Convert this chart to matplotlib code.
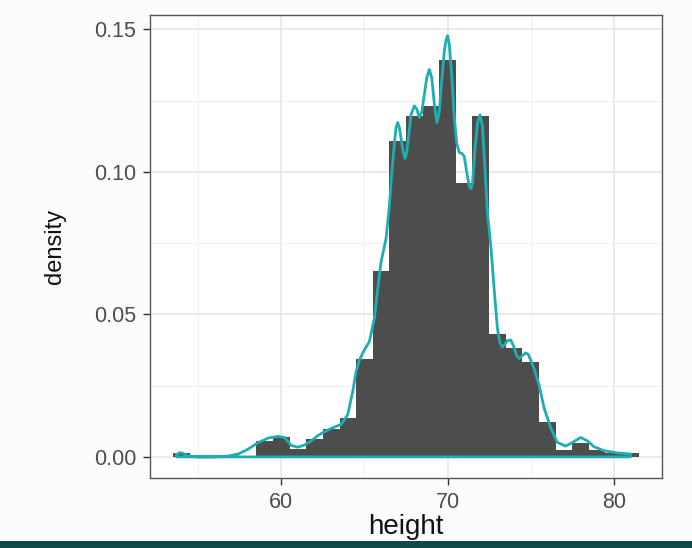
import numpy as np
import matplotlib.pyplot as plt
from matplotlib.patches import Rectangle
from matplotlib.ticker import MultipleLocator

# histogram bins (binwidth = 1 inch, centred on integers)
bin_centers = list(range(54, 82))
bin_density = [0.0012, 0, 0, 0, 0, 0.0055, 0.0070, 0.0026, 0.0062, 0.0099,
               0.0136, 0.0345, 0.0653, 0.1108, 0.1195, 0.1232, 0.1392, 0.0961,
               0.1195, 0.0430, 0.0382, 0.0332, 0.0123, 0.0025, 0.0049, 0.0025,
               0.0012, 0.0012]

# density curve
kde_x = [53.7, 53.9, 54.1, 54.4, 55.0, 56.0, 56.8, 57.4, 58.0, 58.6, 59.2, 59.8,
         60.2, 60.6, 61.0, 61.4, 61.8, 62.2, 62.5, 63.0, 63.6, 64.0, 64.3, 64.5,
         64.7, 65.0, 65.3, 65.6, 65.8, 66.0, 66.3, 66.5, 66.65, 66.8, 66.9, 67.0,
         67.1, 67.3, 67.44, 67.55, 67.8, 68.0, 68.15, 68.3, 68.45, 68.6, 68.75,
         68.9, 69.05, 69.2, 69.36, 69.5, 69.65, 69.8, 69.9, 70.0, 70.1, 70.25,
         70.4, 70.55, 70.7, 70.85, 71.0, 71.15, 71.3, 71.4, 71.5, 71.65, 71.8,
         71.95, 72.1, 72.2, 72.3, 72.4, 72.6, 72.8, 73.0, 73.15, 73.3, 73.45, 73.6,
         73.8, 74.0, 74.15, 74.3, 74.5, 74.7, 74.85, 75.0, 75.2, 75.5, 75.8, 76.2,
         76.6, 77.1, 77.5, 78.0, 78.4, 78.8, 79.4, 80.2, 81.0]
kde_y = [0.0008, 0.0015, 0.0012, 0.0003, 0.0, 0.0, 0.0003, 0.0010, 0.0027, 0.0050,
         0.0066, 0.0072, 0.0068, 0.0040, 0.0034, 0.0042, 0.0056, 0.0075, 0.0085,
         0.0100, 0.0114, 0.0149, 0.0231, 0.0300, 0.0340, 0.0376, 0.0405, 0.0487,
         0.0591, 0.0684, 0.0766, 0.0880, 0.1000, 0.1100, 0.1155, 0.1173, 0.1155,
         0.1080, 0.1047, 0.1070, 0.1200, 0.1231, 0.1220, 0.1190, 0.1210, 0.1270,
         0.1330, 0.1359, 0.1330, 0.1240, 0.1173, 0.1210, 0.1320, 0.1420, 0.1460,
         0.1477, 0.1450, 0.1340, 0.1196, 0.1100, 0.1068, 0.1065, 0.1055, 0.1000,
         0.0950, 0.0940, 0.0960, 0.1080, 0.1170, 0.1200, 0.1160, 0.1060, 0.0963,
         0.0859, 0.0742, 0.0591, 0.0450, 0.0400, 0.0385, 0.0395, 0.0408, 0.0410,
         0.0385, 0.0355, 0.0345, 0.0355, 0.0365, 0.0360, 0.0340, 0.0310, 0.0254,
         0.0173, 0.0103, 0.0051, 0.0038, 0.0050, 0.0068, 0.0057, 0.0036, 0.0022,
         0.0014, 0.0010]

plt.rcParams['font.family'] = ['Liberation Sans', 'DejaVu Sans']

fig = plt.figure(figsize=(6.92, 5.48), dpi=100, facecolor='#fcfcfc')
ax = fig.add_axes([150 / 692, 1 - 478 / 548, 512 / 692, 463 / 548])
ax.set_facecolor('white')

ax.bar(bin_centers, bin_density, width=1.0, color='#4d4d4d', zorder=2)

# closed outline like ggplot's geom_density (with baseline)
px = kde_x + [kde_x[-1], kde_x[0], kde_x[0]]
py = kde_y + [0, 0, kde_y[0]]
ax.plot(px, py, color='#1eaeb2', lw=2.0, zorder=3, solid_joinstyle='round')

ax.set_xlim(52.1, 82.9)
ax.set_ylim(-0.0074, 0.155)
ax.set_xticks([60, 70, 80])
ax.set_yticks([0.0, 0.05, 0.10, 0.15])
ax.set_yticklabels(['0.00', '0.05', '0.10', '0.15'])
ax.xaxis.set_minor_locator(MultipleLocator(5))
ax.yaxis.set_minor_locator(MultipleLocator(0.025))

ax.grid(True, which='major', color='#e6e6e6', lw=1.2, zorder=0)
ax.grid(True, which='minor', color='#f0f0f0', lw=0.7, zorder=0)
ax.set_axisbelow(True)
ax.tick_params(which='minor', length=0)
ax.tick_params(which='major', length=5, width=1.0, color='#333333',
               labelsize=15.5, labelcolor='#4d4d4d', pad=5)
for s in ax.spines.values():
    s.set_color('#555555')
    s.set_linewidth(1.0)

ax.set_xlabel('height', fontsize=20, color='#111111', labelpad=1)
ax.set_ylabel('density', fontsize=17, color='#111111', labelpad=20)

# dark band along the bottom of the slide screenshot
fig.patches.append(Rectangle((0, 0), 1, 7 / 548, transform=fig.transFigure,
                             facecolor='#0d4a47', edgecolor='none'))

fig.savefig('out.png', dpi=100, facecolor=fig.get_facecolor())
